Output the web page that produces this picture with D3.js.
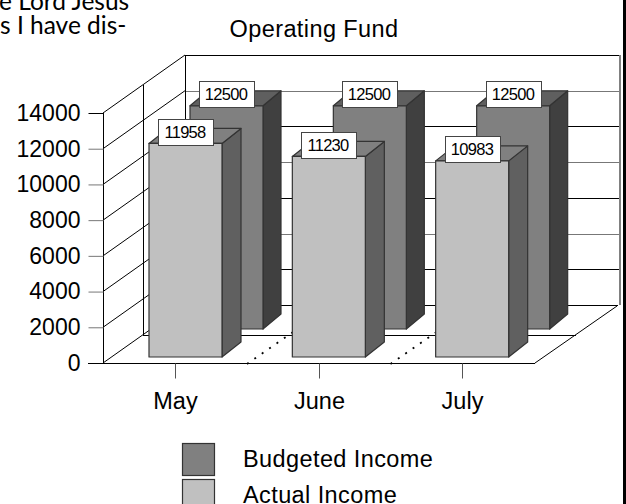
<!DOCTYPE html>
<html><head><meta charset="utf-8">
<script src="https://cdn.jsdelivr.net/npm/d3@7/dist/d3.min.js"></script>
<style>html,body{margin:0;padding:0;background:#fff}svg{display:block}text{font-family:"Liberation Sans",Arial,sans-serif;fill:#000}</style>
</head><body><div id="c"></div>
<script>
const categories = ["May","June","July"];
const budgeted = [12500,12500,12500];
const actual = [11958,11230,10983];
const yTicks = [0,2000,4000,6000,8000,10000,12000,14000];
const seriesNames = ["Budgeted Income","Actual Income"];
const introLines = ["e Lord Jesus","s I have dis-"];

const W=626,H=504;
const svg=d3.select("#c").append("svg").attr("width",W).attr("height",H);
const y=d3.scaleLinear().domain([0,14000]).range([363,113]);
const x=d3.scaleBand().domain(categories).range([103,533]).paddingInner(0).paddingOuter(0);
const wallD={dx:82,dy:-58}, midD={dx:40,dy:-28};
const floorRight=535;
const line=(g,x1,y1,x2,y2,c="#000",w=1)=>g.append("line").attr("x1",x1).attr("y1",y1).attr("x2",x2).attr("y2",y2).attr("stroke",c).attr("stroke-width",w);

// intro text
svg.append("g").selectAll("text").data(introLines).join("text")
  .attr("x",(d,i)=>i?0:-1).attr("y",(d,i)=>10+i*24).style("font-family","Lato").style("font-size","24.5px").text(d=>d);
// title
svg.append("text").attr("x",314).attr("y",37).attr("text-anchor","middle").style("font-size","23.5px").style("letter-spacing","0.4px").text("Operating Fund");
// page rule at right
line(svg,624.5,0,624.5,H,"#000",3);

// walls
const walls=svg.append("g").attr("shape-rendering","crispEdges");
yTicks.forEach(t=>{
  const py=Math.round(y(t))+.5;
  if(t>0){
    line(walls,185.5,py+wallD.dy,618.5,py+wallD.dy,(t===14000||t===10000||t===6000||t===2000)?"#000":"#777");
  }
});
const diag=svg.append("g");
yTicks.forEach(t=>line(diag,103,y(t),103+wallD.dx,y(t)+wallD.dy));
line(walls,185.5,55,185.5,305);
line(walls,619.5,55,619.5,305,"#808080",2);
line(walls,143.5,y(14000)+midD.dy,143.5,y(0)+midD.dy);
line(walls,143,335.5,576,335.5);
line(walls,185,305.5,618,305.5);
line(diag,floorRight,363,617,306);

// dotted floor dividers
[1,2].forEach(i=>{
  const fx=103+i*143.5+.5;
  line(diag,fx,364,fx+46,332).attr("stroke-dasharray","2 7").attr("stroke-width",1.8);
});

// axes
const ay=d3.axisLeft(y).tickValues(yTicks).tickSize(15).tickPadding(8).tickFormat(d3.format("d"));
const gy=svg.append("g").attr("transform","translate(103.5,0)").call(ay);
gy.select(".domain").remove();
gy.selectAll("line").attr("stroke",(d,i)=>i%7===0?"#000":"#777");
gy.selectAll("text").style("font-size","23px");
line(walls,103.5,113,103.5,363);
const xPos=d=>x(d)+x.bandwidth()/2;
const ax=d3.axisBottom(x).tickSize(15).tickPadding(14);
const gx=svg.append("g").attr("transform","translate(0,363.5)").call(ax);
gx.select(".domain").remove();
gx.selectAll("line").attr("stroke","#555");
gx.selectAll(".tick").attr("transform",d=>`translate(${Math.round(xPos(d)+.5)+.5},0)`);
gx.selectAll("text").style("font-size","23.5px");
line(walls,88,363.5,floorRight,363.5);

// bars
const barW=73;
const series=[
 {vals:budgeted,base:{dx:87,dy:-34},front:"#808080",top:"#5f5f5f",side:"#404040",d:{dx:18,dy:-15}},
 {vals:actual,base:{dx:46,dy:-6},front:"#c0c0c0",top:"#808080",side:"#606060",d:{dx:19,dy:-15}}
];
const bars=svg.append("g"), labels=svg.append("g");
series.forEach(s=>{
  categories.forEach((c,i)=>{
    const v=s.vals[i];
    const x0=x(c)+s.base.dx, x1=x0+barW;
    const yb=y(0)+s.base.dy, yt=y(v)+s.base.dy;
    const g=bars.append("g").attr("stroke","#333").attr("stroke-width",1.2).attr("stroke-linejoin","round");
    g.append("polygon").attr("fill",s.side).attr("points",[[x1,yt],[x1+s.d.dx,yt+s.d.dy],[x1+s.d.dx,yb+s.d.dy],[x1,yb]].join(" "));
    g.append("polygon").attr("fill",s.top).attr("points",[[x0,yt],[x0+s.d.dx,yt+s.d.dy],[x1+s.d.dx,yt+s.d.dy],[x1,yt]].join(" "));
    g.append("rect").attr("x",x0).attr("y",yt).attr("width",barW).attr("height",yb-yt).attr("fill",s.front);
    const bx=(x0+x1)/2-27.5, by=yt-24.5;
    labels.append("rect").attr("x",Math.round(bx)+.5).attr("y",Math.round(by)+.5).attr("width",55).attr("height",26)
      .attr("fill","#fff").attr("stroke","#444").attr("stroke-width",1);
    labels.append("text").attr("x",Math.round(bx)+27).attr("y",Math.round(by)+19).attr("text-anchor","middle")
      .style("font-size","16.5px").style("letter-spacing","-0.7px").text(v);
  });
});

// legend
const leg=svg.append("g").selectAll("g").data(seriesNames).join("g").attr("transform",(d,i)=>`translate(0,${443+i*36})`);
leg.append("rect").attr("x",182.5).attr("y",.5).attr("width",32).attr("height",32)
  .attr("fill",(d,i)=>series[i].front).attr("stroke","#333").attr("stroke-width",1.2);
leg.append("text").attr("x",243).attr("y",24).style("font-size","23.5px").style("letter-spacing","0.4px").text(d=>d);
</script></body></html>
